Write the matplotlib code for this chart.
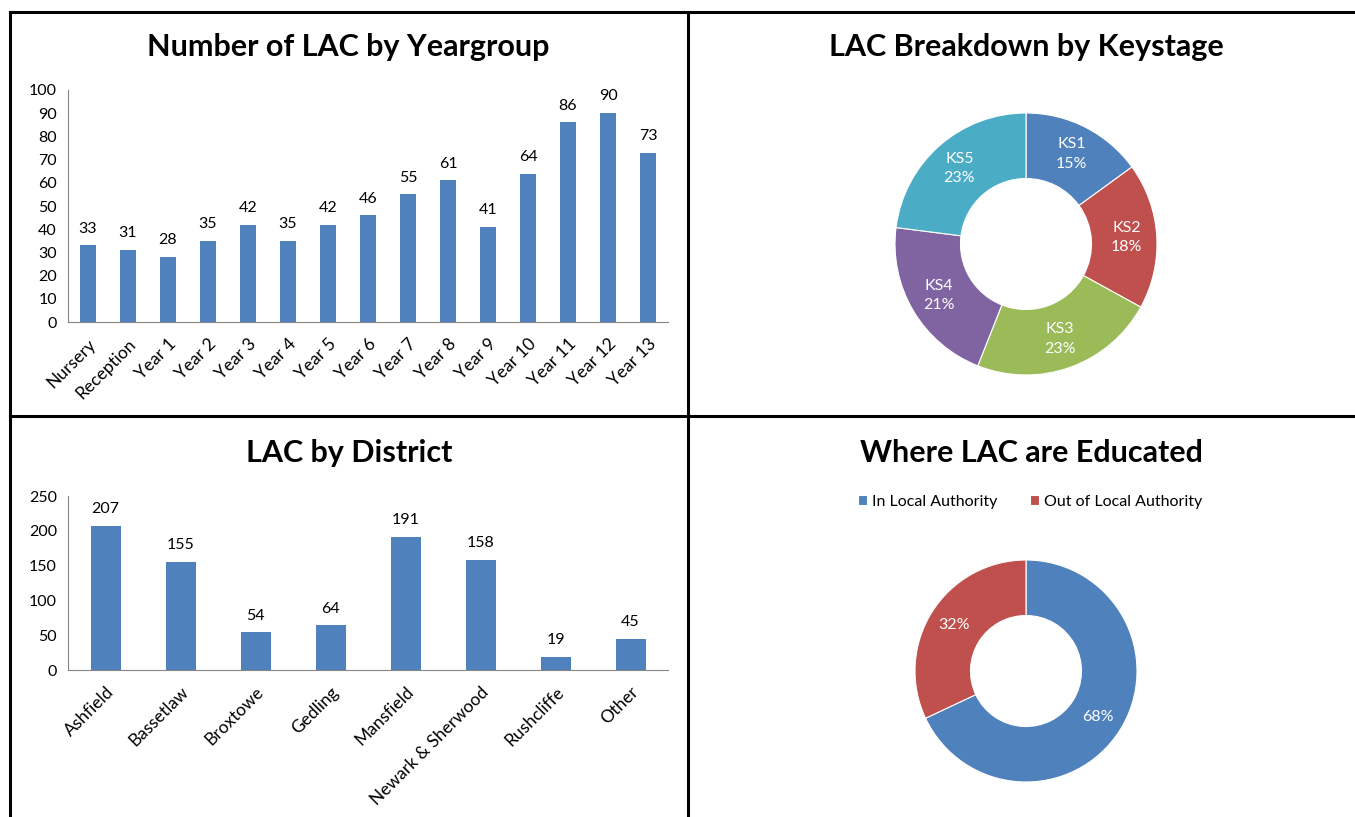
import matplotlib
matplotlib.use("Agg")
import matplotlib.pyplot as plt
from matplotlib.lines import Line2D

plt.rcParams["font.family"] = ["Lato", "DejaVu Sans"]

# data
year_groups = ["Nursery", "Reception", "Year 1", "Year 2", "Year 3", "Year 4", "Year 5",
               "Year 6", "Year 7", "Year 8", "Year 9", "Year 10", "Year 11", "Year 12", "Year 13"]
year_counts = [33, 31, 28, 35, 42, 35, 42, 46, 55, 61, 41, 64, 86, 90, 73]

districts = ["Ashfield", "Bassetlaw", "Broxtowe", "Gedling", "Mansfield",
             "Newark & Sherwood", "Rushcliffe", "Other"]
district_counts = [207, 155, 54, 64, 191, 158, 19, 45]

keystages = ["KS1", "KS2", "KS3", "KS4", "KS5"]
keystage_pct = [15, 18, 23, 21, 23]

where_labels = ["In Local Authority", "Out of Local Authority"]
where_pct = [68, 32]

BLUE = "#4F81BD"
RED = "#C0504D"
GREEN = "#9BBB59"
PURPLE = "#8064A2"
CYAN = "#4BACC6"
AXIS_GREY = "#868686"

W, H = 1355, 817
fig = plt.figure(figsize=(W / 100, H / 100), dpi=100)


def px_axes(left, top, right, bottom):
    # pixel box (from top-left) -> figure fraction
    return fig.add_axes([left / W, 1 - bottom / H, (right - left) / W, (bottom - top) / H])


def bar_panel(ax, cats, vals, ymax, step, pad):
    ax.bar(range(len(cats)), vals, width=0.42 if len(cats) > 10 else 0.4, color=BLUE)
    ax.set_xlim(-0.5, len(cats) - 0.5)
    ax.set_ylim(0, ymax)
    ax.set_yticks(range(0, ymax + 1, step))
    ax.set_xticks(range(len(cats)))
    ax.set_xticklabels(cats, rotation=45, ha="right", rotation_mode="anchor", fontsize=12.5)
    for s in ["top", "right"]:
        ax.spines[s].set_visible(False)
    for s in ["left", "bottom"]:
        ax.spines[s].set_color(AXIS_GREY)
    ax.tick_params(axis="y", length=0, labelsize=11.5, pad=8)
    ax.tick_params(axis="x", length=0, pad=10)
    ax.bar_label(ax.containers[0], padding=pad, fontsize=11.5)


# top-left: year groups
ax1 = px_axes(68, 90, 668, 322)
bar_panel(ax1, year_groups, year_counts, 100, 10, 7)

# bottom-left: districts
ax3 = px_axes(68, 496, 668, 670)
bar_panel(ax3, districts, district_counts, 250, 50, 7)


def donut(ax, vals, colors):
    wedges, texts, autotexts = ax.pie(
        vals, colors=colors, startangle=90, counterclock=False,
        autopct="%1.0f%%", pctdistance=0.77, radius=1,
        wedgeprops=dict(width=0.5, edgecolor="white", linewidth=0.8),
        textprops=dict(color="white", fontsize=11.5),
    )
    ax.set_xlim(-1, 1)
    ax.set_ylim(-1, 1)
    ax.set_aspect("equal")
    return wedges, autotexts


# top-right: keystages
ax2 = px_axes(1026 - 131, 244 - 131, 1026 + 131, 244 + 131)
_, ks_texts = donut(ax2, keystage_pct, [BLUE, RED, GREEN, PURPLE, CYAN])
for t, name in zip(ks_texts, keystages):
    t.set_text(name + "\n" + t.get_text())
    t.set_linespacing(1.5)

# bottom-right: where educated
ax4 = px_axes(1026 - 111, 671 - 111, 1026 + 111, 671 + 111)
wedges, _ = donut(ax4, where_pct, [BLUE, RED])
fig.legend(wedges, where_labels, loc="center", bbox_to_anchor=(1030 / W, 1 - 502 / H),
           ncol=2, frameon=False, fontsize=11.5, handlelength=0.6, handleheight=0.6,
           handletextpad=0.3, columnspacing=2.0)

# titles
title_kw = dict(ha="center", va="center", fontsize=22, fontweight="bold")
fig.text(348 / W, 1 - 47 / H, "Number of LAC by Yeargroup", **title_kw)
fig.text(1026 / W, 1 - 47 / H, "LAC Breakdown by Keystage", **title_kw)
fig.text(349 / W, 1 - 453 / H, "LAC by District", **title_kw)
fig.text(1031 / W, 1 - 453 / H, "Where LAC are Educated", **title_kw)

# panel borders
border_kw = dict(color="black", linewidth=2.2, transform=fig.transFigure)
fig.add_artist(Line2D([10 / W, 1], [1 - 12 / H] * 2, **border_kw))
fig.add_artist(Line2D([10 / W, 1], [1 - 416 / H] * 2, **border_kw))
fig.add_artist(Line2D([10 / W] * 2, [0, 1 - 12 / H], **border_kw))
fig.add_artist(Line2D([688 / W] * 2, [0, 1 - 12 / H], **border_kw))

fig.savefig("out.png", dpi=100)
